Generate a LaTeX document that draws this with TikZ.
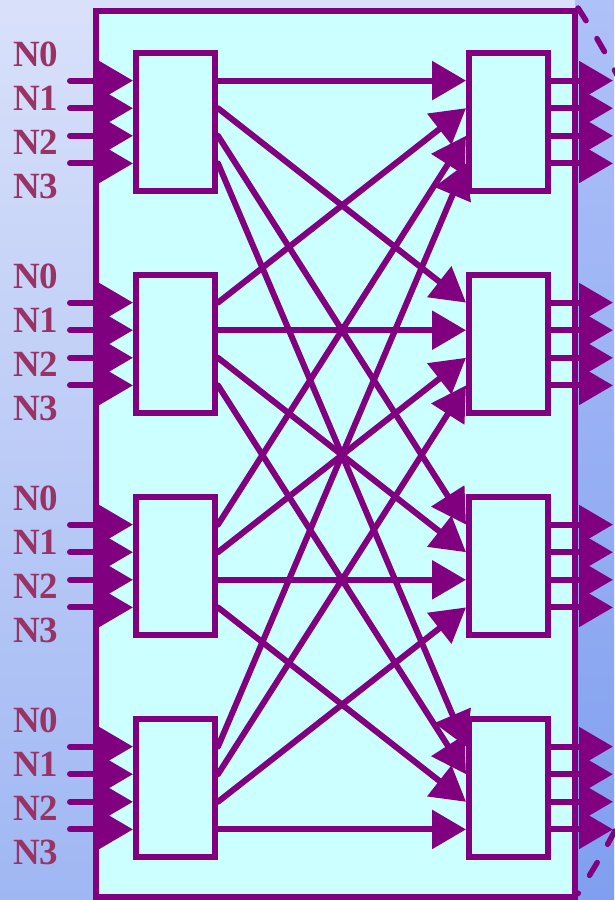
\documentclass[tikz,border=0pt]{standalone}
\usepackage{fontspec}
\setmainfont{Liberation Serif}
\usetikzlibrary{arrows.meta,calc}
\definecolor{pur}{HTML}{800080}
\definecolor{lab}{HTML}{993366}
\definecolor{cy}{HTML}{CCFFFF}
\definecolor{bgA}{HTML}{D9E1FA}
\definecolor{bgB}{HTML}{9FB7F3}
\definecolor{bgC}{HTML}{AEC1F8}
\definecolor{bgD}{HTML}{809FF0}
\begin{document}
\begin{tikzpicture}[x=1pt,y=-1pt,
  swbox/.style={rectangle,draw=pur,fill=cy,line width=6pt,minimum width=79pt,minimum height=138pt,inner sep=0pt},
  framebox/.style={rectangle,draw=pur,fill=cy,line width=6pt,minimum width=479pt,minimum height=886pt,inner sep=0pt},
  con/.style={draw=pur,line width=6pt,line cap=round,-{Triangle[length=34pt,width=38pt]}},
  lbl/.style={text=lab,font=\fontsize{37}{37}\selectfont\bfseries,inner sep=0pt,anchor=west}]
\useasboundingbox (0,0) rectangle (614,900);
\shade[top color=bgA,bottom color=bgB] (0,0) rectangle (614,900);
\shade[top color=bgC,bottom color=bgD] (575,0) rectangle (614,900);
\node[framebox] (frame) at (335.5,454) {};
\foreach \i in {0,...,3}{
  \pgfmathsetmacro\yc{122+222*\i}
  \node[swbox] (L\i) at (175.5,\yc) {};
  \node[swbox] (R\i) at (508.5,\yc) {};
}
\foreach \i in {0,...,3}{
  \foreach \k in {0,...,3}{
    \pgfmathsetmacro\off{-41.4+27.6*\k}
    \coordinate (Li\i\k) at ($(L\i.west)+(0,\off)$);
    \coordinate (Lp\i\k) at ($(L\i.east)+(0,\off)$);
    \coordinate (Rp\i\k) at ($(R\i.west)+(0,\off)$);
    \coordinate (Ro\i\k) at ($(R\i.east)+(0,\off)$);
    \coordinate (Ls\i\k) at ($(L\i.west)+(-63,\off)$);
    \coordinate (Rt\i\k) at ($(R\i.east)+(62,\off)$);
  }
}
\foreach \i in {0,...,3}{
  \foreach \k in {0,...,3}{
    \draw[con] (Ls\i\k) -- (Li\i\k);
    \draw[con] (Lp\i\k) -- (Rp\k\i);
    \draw[con] (Ro\i\k) -- (Rt\i\k);
    \node[lbl] (T\i\k) at (13,54+222*\i+44*\k) {N\k};
  }
}
\draw[pur,line width=5.5pt,line cap=round,dash pattern=on 15pt off 21pt]
  (frame.north east) arc[start angle=-33,end angle=33,radius=813];
\end{tikzpicture}
\end{document}
